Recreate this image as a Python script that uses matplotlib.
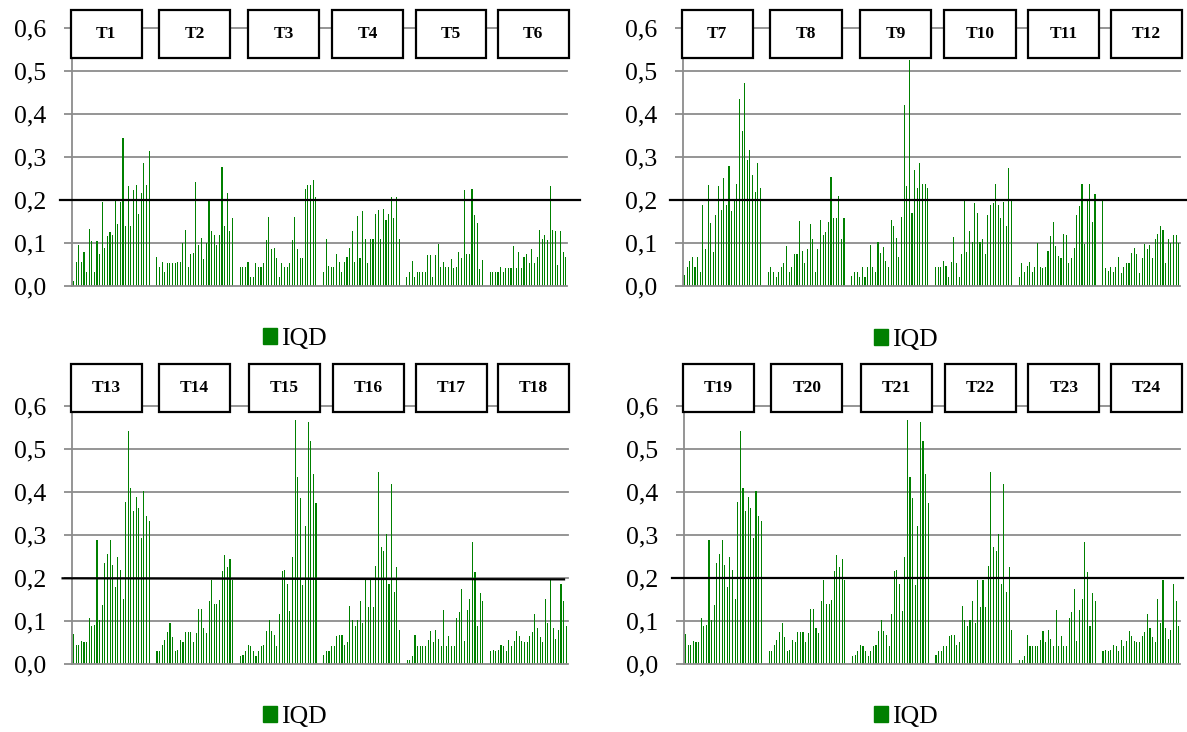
import matplotlib
matplotlib.use("Agg")
import matplotlib.pyplot as plt
from matplotlib.patches import Rectangle, Patch
import matplotlib.transforms as mtransforms
import numpy as np

plt.rcParams['font.family'] = ['Liberation Serif', 'DejaVu Serif']

# IQD per treatment, 30 samples each
t1 = [0.01, 0.055, 0.094, 0.055, 0.078, 0.031, 0.132, 0.104, 0.031, 0.104, 0.075, 0.196, 0.087, 0.115, 0.125,
      0.118, 0.2, 0.143, 0.196, 0.345, 0.139, 0.232, 0.14, 0.224, 0.234, 0.167, 0.216, 0.285, 0.234, 0.314]
t2 = [0.068, 0.044, 0.055, 0.032, 0.054, 0.053, 0.053, 0.054, 0.055, 0.055, 0.099, 0.129, 0.044, 0.075, 0.077,
      0.242, 0.096, 0.111, 0.062, 0.099, 0.198, 0.128, 0.118, 0.096, 0.118, 0.276, 0.139, 0.216, 0.128, 0.157]
t3 = [0.044, 0.044, 0.044, 0.055, 0.02, 0.02, 0.052, 0.044, 0.044, 0.054, 0.107, 0.16, 0.086, 0.088, 0.065,
      0.02, 0.052, 0.044, 0.044, 0.054, 0.107, 0.16, 0.086, 0.065, 0.065, 0.226, 0.234, 0.234, 0.246, 0.206]
t4 = [0.032, 0.108, 0.047, 0.044, 0.044, 0.075, 0.055, 0.031, 0.055, 0.068, 0.087, 0.128, 0.055, 0.163, 0.065,
      0.173, 0.108, 0.053, 0.108, 0.108, 0.167, 0.177, 0.108, 0.179, 0.153, 0.167, 0.207, 0.157, 0.207, 0.108]
t5 = [0.021, 0.033, 0.057, 0.021, 0.032, 0.032, 0.032, 0.032, 0.071, 0.071, 0.02, 0.071, 0.098, 0.044, 0.055,
      0.044, 0.044, 0.063, 0.041, 0.044, 0.078, 0.065, 0.223, 0.075, 0.075, 0.226, 0.165, 0.147, 0.038, 0.059]
t6 = [0.032, 0.032, 0.032, 0.032, 0.044, 0.032, 0.041, 0.041, 0.041, 0.093, 0.041, 0.078, 0.041, 0.068, 0.075,
      0.052, 0.086, 0.052, 0.067, 0.129, 0.108, 0.118, 0.107, 0.233, 0.13, 0.128, 0.048, 0.128, 0.078, 0.068]

t7 = [0.024, 0.044, 0.058, 0.067, 0.044, 0.067, 0.032, 0.188, 0.085, 0.235, 0.146, 0.079, 0.165, 0.232, 0.176,
      0.251, 0.188, 0.279, 0.175, 0.197, 0.237, 0.435, 0.36, 0.472, 0.294, 0.316, 0.258, 0.218, 0.286, 0.227]
t8 = [0.032, 0.044, 0.032, 0.021, 0.032, 0.043, 0.054, 0.092, 0.032, 0.044, 0.075, 0.074, 0.151, 0.082, 0.054,
      0.085, 0.143, 0.108, 0.031, 0.085, 0.153, 0.118, 0.125, 0.148, 0.253, 0.157, 0.157, 0.208, 0.108, 0.158]
t9 = [0.023, 0.032, 0.032, 0.02, 0.044, 0.02, 0.044, 0.095, 0.044, 0.032, 0.101, 0.077, 0.09, 0.057, 0.044,
      0.153, 0.139, 0.111, 0.068, 0.16, 0.422, 0.233, 0.525, 0.169, 0.27, 0.228, 0.286, 0.237, 0.236, 0.227]
t10 = [0.044, 0.044, 0.044, 0.058, 0.046, 0.02, 0.055, 0.113, 0.054, 0.02, 0.075, 0.199, 0.078, 0.128, 0.101,
       0.193, 0.169, 0.101, 0.108, 0.074, 0.165, 0.188, 0.193, 0.237, 0.188, 0.158, 0.195, 0.139, 0.275, 0.198]
t11 = [0.02, 0.054, 0.032, 0.047, 0.056, 0.032, 0.044, 0.1, 0.044, 0.041, 0.044, 0.082, 0.116, 0.148, 0.093,
       0.069, 0.065, 0.12, 0.118, 0.052, 0.065, 0.087, 0.164, 0.186, 0.237, 0.097, 0.198, 0.237, 0.149, 0.213]
t12 = [0.199, 0.041, 0.034, 0.044, 0.032, 0.043, 0.066, 0.03, 0.043, 0.054, 0.052, 0.077, 0.087, 0.075, 0.03,
       0.065, 0.098, 0.085, 0.096, 0.064, 0.108, 0.12, 0.139, 0.13, 0.052, 0.109, 0.1, 0.118, 0.118, 0.1]

t13 = [0.071, 0.044, 0.044, 0.055, 0.053, 0.053, 0.107, 0.088, 0.091, 0.288, 0.103, 0.138, 0.235, 0.256, 0.29,
       0.23, 0.179, 0.25, 0.219, 0.153, 0.378, 0.542, 0.409, 0.356, 0.388, 0.364, 0.294, 0.403, 0.344, 0.334]
t14 = [0.032, 0.031, 0.044, 0.057, 0.076, 0.095, 0.064, 0.031, 0.033, 0.057, 0.052, 0.074, 0.074, 0.074, 0.052,
       0.073, 0.129, 0.129, 0.084, 0.073, 0.147, 0.197, 0.14, 0.141, 0.15, 0.216, 0.255, 0.226, 0.246, 0.196]
t15 = [0.02, 0.021, 0.032, 0.045, 0.043, 0.031, 0.019, 0.03, 0.043, 0.044, 0.078, 0.102, 0.078, 0.067, 0.042,
       0.118, 0.217, 0.22, 0.187, 0.124, 0.249, 0.567, 0.436, 0.387, 0.184, 0.322, 0.564, 0.519, 0.442, 0.374]
t16 = [0.021, 0.03, 0.032, 0.043, 0.043, 0.066, 0.067, 0.067, 0.044, 0.053, 0.135, 0.104, 0.088, 0.103, 0.147,
       0.096, 0.197, 0.133, 0.197, 0.133, 0.228, 0.447, 0.272, 0.263, 0.302, 0.187, 0.419, 0.167, 0.226, 0.079]
t17 = [0.01, 0.009, 0.019, 0.067, 0.043, 0.043, 0.043, 0.043, 0.056, 0.078, 0.053, 0.079, 0.06, 0.043, 0.126,
       0.042, 0.065, 0.043, 0.043, 0.107, 0.121, 0.174, 0.054, 0.126, 0.153, 0.285, 0.215, 0.088, 0.166, 0.147]
t18 = [0.032, 0.033, 0.032, 0.033, 0.044, 0.042, 0.031, 0.056, 0.043, 0.055, 0.078, 0.065, 0.054, 0.053, 0.053,
       0.065, 0.074, 0.118, 0.085, 0.064, 0.053, 0.153, 0.095, 0.195, 0.084, 0.059, 0.079, 0.187, 0.147, 0.088]

# T19-T24 carry the same series as T13-T18
t19, t20, t21, t22, t23, t24 = t13, t14, t15, t16, t17, t18

labels = [["T1", "T2", "T3", "T4", "T5", "T6"],
          ["T7", "T8", "T9", "T10", "T11", "T12"],
          ["T13", "T14", "T15", "T16", "T17", "T18"],
          ["T19", "T20", "T21", "T22", "T23", "T24"]]
series = [[t1, t2, t3, t4, t5, t6],
          [t7, t8, t9, t10, t11, t12],
          [t13, t14, t15, t16, t17, t18],
          [t19, t20, t21, t22, t23, t24]]
# limit line: value at left end, value at right end
limits = [(0.2, 0.2), (0.2, 0.2), (0.2, 0.1975), (0.2, 0.2)]
yticks = [0.0, 0.1, 0.2, 0.3, 0.4, 0.5, 0.6]
ytick_labels = ["0,0", "0,1", "0,2", "0,3", "0,4", "0,5", "0,6"]

GREEN = '#008000'
GRID = '#8c8c8c'
W, H = 1187, 732

# axes boxes in pixels: left, top, right, bottom
axes_px = [(72, 28.3, 567, 285.7), (683, 28.3, 1180, 285.7),
           (72, 406.3, 567.5, 664.3), (684, 406.3, 1180, 664.3)]
legend_px = [(295, 339), (906, 340), (295, 717), (906, 717)]
limit_span = [(-0.024, 1.026), (-0.026, 1.02), (-0.019, 0.993), (-0.025, 1.006)]
box_y = [(0.530, 0.643), (0.530, 0.643), (0.586, 0.698), (0.586, 0.698)]
box_cx = [0.069, 0.2475, 0.428, 0.5976, 0.7657, 0.9317]
box_w = 0.143

fig = plt.figure(figsize=(W / 100, H / 100), dpi=100)

for p in range(4):
    l, t, r, b = axes_px[p]
    ax = fig.add_axes([l / W, 1 - b / H, (r - l) / W, (b - t) / H])

    for g, vals in enumerate(series[p]):
        x = g * 32 + np.arange(len(vals))
        ax.bar(x, vals, width=0.42, color=GREEN, linewidth=0, zorder=2)

    ax.set_xlim(-0.6, 189.5)
    ax.set_ylim(0, 0.6)
    for y in yticks[1:]:
        ax.axhline(y, color=GRID, lw=1.3, zorder=1, clip_on=False)

    for s in ['top', 'right']:
        ax.spines[s].set_visible(False)
    for s in ['left', 'bottom']:
        ax.spines[s].set_color(GRID)
        ax.spines[s].set_linewidth(1.3)
    ax.set_xticks([])
    ax.set_yticks(yticks)
    ax.set_yticklabels(ytick_labels)
    ax.tick_params(axis='y', direction='out', length=6, width=1.3, color=GRID, pad=12.5, labelsize=18.5)

    # limit line
    trans = mtransforms.blended_transform_factory(ax.transAxes, ax.transData)
    ax.plot(limit_span[p], limits[p], color='black', lw=1.6, transform=trans, clip_on=False, zorder=3)

    # treatment boxes
    y0, y1 = box_y[p]
    for cx, name in zip(box_cx, labels[p]):
        ax.add_patch(Rectangle((cx - box_w / 2, y0), box_w, y1 - y0, transform=trans,
                               facecolor='white', edgecolor='black', lw=1.6, clip_on=False, zorder=5))
        ax.text(cx, (y0 + y1) / 2, name, transform=trans, ha='center', va='center',
                fontsize=12.5, fontweight='bold', zorder=6)

    lx, ly = legend_px[p]
    fig.legend(handles=[Patch(color=GREEN, label='IQD')], loc='center',
               bbox_to_anchor=(lx / W, 1 - ly / H), frameon=False, fontsize=18.5,
               handlelength=0.55, handleheight=0.55, handletextpad=0.15, borderpad=0)

fig.savefig('out.png', dpi=100)
